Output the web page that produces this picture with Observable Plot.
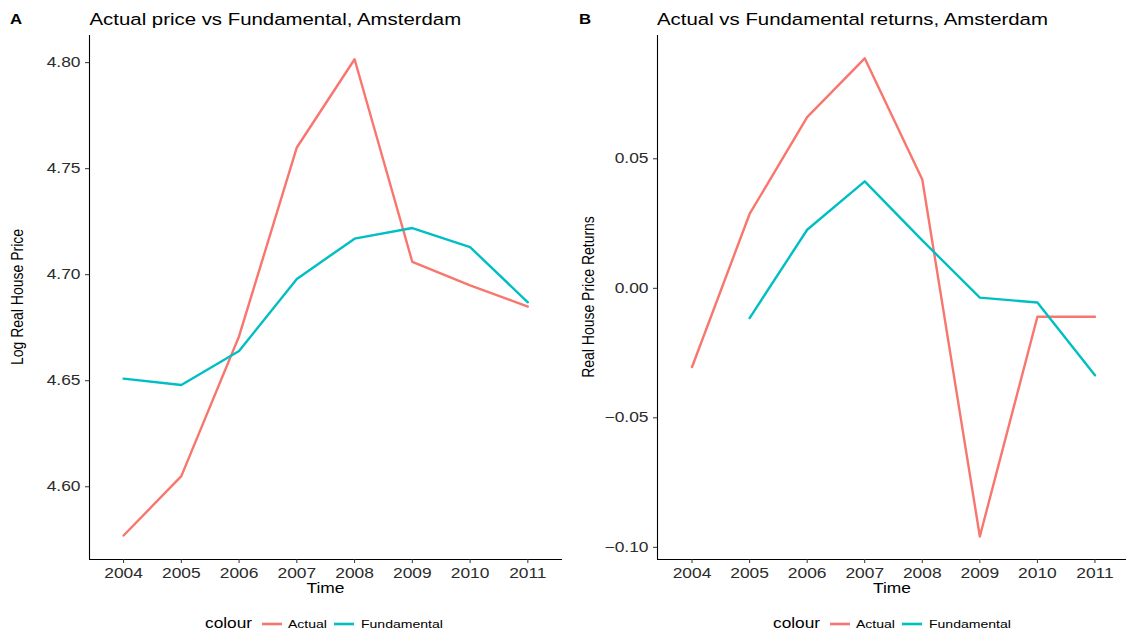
<!DOCTYPE html>
<html><head><meta charset="utf-8">
<script src="https://cdn.jsdelivr.net/npm/d3@7"></script>
<script src="https://cdn.jsdelivr.net/npm/@observablehq/plot@0.6"></script>
<style>
html,body{margin:0;padding:0;background:#fff;overflow:hidden;}
#wrap{position:relative;width:1126px;height:633px;overflow:hidden;font-family:"Liberation Sans",Arial,sans-serif;}
#wrap svg{position:absolute;top:0;}
</style></head><body><div id="wrap"></div>
<script>
// ---- data ----
const years = [2004, 2005, 2006, 2007, 2008, 2009, 2010, 2011];
const actualPrice = [4.577, 4.605, 4.671, 4.760, 4.8016, 4.706, 4.695, 4.685];
const fundamentalPrice = [4.651, 4.648, 4.664, 4.698, 4.717, 4.722, 4.713, 4.687];
const actualReturn = [-0.0304, 0.0287, 0.0661, 0.0888, 0.0420, -0.0958, -0.0110, -0.0110];
const fundamentalReturn = [null, -0.0115, 0.0226, 0.0413, 0.0185, -0.0036, -0.0055, -0.0336];
const seriesNames = ["Actual", "Fundamental"];
const seriesColors = ["#F8766D", "#00BFC4"];
const priceTicks = [4.60, 4.65, 4.70, 4.75, 4.80];
const returnTicks = [-0.10, -0.05, 0.00, 0.05];
const titles = ["Actual price vs Fundamental, Amsterdam", "Actual vs Fundamental returns, Amsterdam"];
const panelTags = ["A", "B"];
const yLabels = ["Log Real House Price", "Real House Price Returns"];
const xLabel = "Time";
const legendTitle = "colour";

const FONT = '"Liberation Sans", Arial, sans-serif';
const SX = 1.2; // horizontal stretch of the original rendering
const wrap = document.getElementById("wrap");

function panel({left, width, marginLeft, marginRight, xDomain, yDomain, yTicks, a, f}) {
  const rows = [];
  years.forEach((yr, i) => { if (a[i] != null) rows.push({year: yr, value: a[i], series: seriesNames[0]}); });
  years.forEach((yr, i) => { if (f[i] != null) rows.push({year: yr, value: f[i], series: seriesNames[1]}); });
  const svg = Plot.plot({
    width, height: 633, marginLeft, marginRight, marginTop: 35, marginBottom: 74,
    style: {fontFamily: FONT, background: "transparent", color: "#2b2b2b", overflow: "visible"},
    x: {domain: xDomain, axis: null},
    y: {domain: yDomain, axis: null},
    color: {domain: seriesNames, range: seriesColors},
    marks: [
      Plot.line(rows, {x: "year", y: "value", stroke: "series", z: "series", strokeWidth: 2.4}),
      Plot.ruleX([xDomain[0]], {stroke: "#000", strokeWidth: 1.1}),
      Plot.ruleY([yDomain[0]], {stroke: "#000", strokeWidth: 1.1}),
      Plot.axisX({ticks: years, tickSize: 4, tickPadding: 4, fontSize: 14.5, tickFormat: d => String(d), label: null, stroke: "#333", fill: "#2b2b2b"}),
      Plot.axisY({ticks: yTicks, tickSize: 4, tickPadding: 5, fontSize: 14.5, tickFormat: d3.format(".2f"), label: null, stroke: "#333", fill: "#2b2b2b"})
    ]
  });
  svg.style.left = left + "px";
  svg.querySelectorAll("text").forEach(t => {
    const tr = t.getAttribute("transform");
    if (tr) t.setAttribute("transform", tr + ` scale(${SX},1)`);
  });
  wrap.appendChild(svg);
}

panel({left: 0, width: 563, marginLeft: 89, marginRight: 1, xDomain: [2003.41, 2011.6],
       yDomain: [4.5657, 4.8128], yTicks: priceTicks, a: actualPrice, f: fundamentalPrice});
panel({left: 563, width: 566, marginLeft: 94, marginRight: 0, xDomain: [2003.4, 2011.6],
       yDomain: [-0.1047, 0.0976], yTicks: returnTicks, a: actualReturn, f: fundamentalReturn});

// ---- overlay text: titles, axis titles, legends ----
const ov = d3.select(wrap).append("svg")
  .attr("width", 1126).attr("height", 633)
  .style("left", "0px").style("font-family", FONT);

function txt(s, x, y, size, opts = {}) {
  const t = ov.append("text")
    .attr("transform", `translate(${x},${y})` + (opts.rotate ? ` rotate(-90) scale(1,${SX})` : ` scale(${SX},1)`))
    .attr("font-size", size)
    .attr("fill", opts.fill || "#000")
    .attr("text-anchor", opts.anchor || "start")
    .text(s);
  if (opts.bold) t.attr("font-weight", "bold");
  return t;
}

const panelsGeo = [
  {tagX: 10, titleX: 89.5, plotCx: 325.5, ylabX: 23, ylabY: 297, legX: 205},
  {tagX: 579, titleX: 657, plotCx: 892, ylabX: 594, ylabY: 297, legX: 773}
];
panelsGeo.forEach((g, i) => {
  txt(panelTags[i], g.tagX, 24, 14, {bold: true});
  txt(titles[i], g.titleX, 25, 17);
  txt(xLabel, g.plotCx, 593, 14.5, {anchor: "middle"});
  txt(yLabels[i], g.ylabX, g.ylabY, 14, {anchor: "middle", rotate: true});
  // legend
  txt(legendTitle, g.legX, 628, 14.4);
  const swX = [g.legX + 57, g.legX + 129];
  const labX = [g.legX + 83, g.legX + 156];
  seriesNames.forEach((name, k) => {
    ov.append("line").attr("x1", swX[k]).attr("x2", swX[k] + 20).attr("y1", 624).attr("y2", 624)
      .attr("stroke", seriesColors[k]).attr("stroke-width", 2.6);
    txt(name, labX[k], 628, 11.7);
  });
});
</script></body></html>
